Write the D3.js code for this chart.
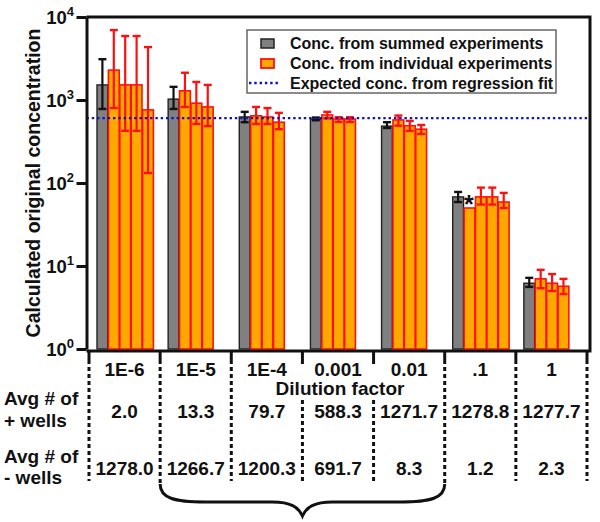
<!DOCTYPE html>
<html><head><meta charset="utf-8">
<script src="https://cdn.jsdelivr.net/npm/d3@7"></script>
<style>body{margin:0;background:#fff}svg{display:block}text{font-family:"Liberation Sans",Arial,sans-serif;font-weight:bold;fill:#111}</style>
</head><body><svg id="c" width="600" height="522"></svg>
<script>
const categories = ["1E-6","1E-5","1E-4","0.001","0.01",".1","1"];
const summedMean  = [1520, 1025, 625, 590, 485, 68, 6.2];
const summedUpper = [3100, 1440, 720, 615, 540, 78, 7.2];
const summedLower = [780, 780, 540, 570, 460, 59, 5.6];
const indivMean  = [[2290,1520,1520,760],[1290,915,825],[645,625,540],[660,590,590],[575,490,445],[50,68,68,59],[7.0,6.2,5.7]];
const indivUpper = [[6960,5900,5900,4340],[2130,1650,1520],[825,800,700],[720,620,620],[650,560,500],[null,88,88,76],[9.0,8.0,7.0]];
const indivLower = [[800,425,425,132],[825,515,485],[515,515,445],[600,545,545],[490,425,390],[null,55,55,50],[5.4,5.0,4.6]];
const starred = [[5,0]];
const expected = 605;
const plusWells  = ["2.0","13.3","79.7","588.3","1271.7","1278.8","1277.7"];
const minusWells = ["1278.0","1266.7","1200.3","691.7","8.3","1.2","2.3"];
const yTicks = [1,10,100,1000,10000];
const legendLabels = ["Conc. from summed experiments","Conc. from individual experiments","Expected conc. from regression fit"];

const svg = d3.select("#c");
const L=86.5, R=590, T=17, B=349;
const y = d3.scaleLog().domain([1,10000]).range([B,T]);
const x = d3.scaleBand().domain(categories).range([89,587]);
const slot = d3.scaleBand().domain([0,1,2,3,4]).range([8,8+57]);
const GREY="#808080", ORANGE="#FFA800", RED="#FF1010", BLUE="#1010CC";

// bars
categories.forEach((c,i)=>{
  const g = svg.append("g").attr("transform",`translate(${x(c)},0)`);
  g.append("rect").attr("x",slot(0)).attr("width",slot.bandwidth()-0.6)
    .attr("y",y(summedMean[i])).attr("height",B-y(summedMean[i]))
    .attr("fill",GREY).attr("stroke","#222").attr("stroke-width",1.4);
  indivMean[i].forEach((v,j)=>{
    g.append("rect").attr("x",slot(j+1)).attr("width",slot.bandwidth()-0.6)
      .attr("y",y(v)).attr("height",B-y(v))
      .attr("fill",ORANGE).attr("stroke",RED).attr("stroke-width",1.6);
  });
  const eb=(cx,lo,hi,col)=>{
    g.append("line").attr("x1",cx).attr("x2",cx).attr("y1",y(lo)).attr("y2",y(hi)).attr("stroke",col).attr("stroke-width",2.2);
    [lo,hi].forEach(v=>g.append("line").attr("x1",cx-4).attr("x2",cx+4).attr("y1",y(v)).attr("y2",y(v)).attr("stroke",col).attr("stroke-width",2.4));
  };
  eb(slot(0)+slot.bandwidth()/2-0.3, summedLower[i], summedUpper[i], "#111");
  indivMean[i].forEach((v,j)=>{
    if(indivUpper[i][j]!=null) eb(slot(j+1)+slot.bandwidth()/2-0.3, indivLower[i][j], indivUpper[i][j], RED);
  });
});
starred.forEach(([i,j])=>{
  svg.append("text").attr("x",x(categories[i])+slot(j+1)+slot.bandwidth()/2-1).attr("y",y(indivMean[i][j])+5)
    .attr("text-anchor","middle").attr("font-size",25).text("*");
});

// expected line
svg.append("line").attr("x1",L).attr("x2",R).attr("y1",y(expected)).attr("y2",y(expected))
  .attr("stroke",BLUE).attr("stroke-width",2.4).attr("stroke-dasharray","2.4,2.9");

// frame
const ax = svg.append("g").attr("transform",`translate(${L},0)`)
  .call(d3.axisLeft(y).tickValues(yTicks).tickSize(10).tickSizeOuter(0).tickFormat(""));
ax.selectAll("path,line").attr("stroke","#111").attr("stroke-width",3);
svg.append("path").attr("d",`M${L},${T}H${R}V${B+2}H${L}`).attr("fill","none").attr("stroke","#111").attr("stroke-width",3);
yTicks.forEach(v=>{
  const t = svg.append("text").attr("x",74).attr("y",y(v)+7).attr("text-anchor","end").attr("font-size",18.5);
  t.append("tspan").text("10");
  t.append("tspan").attr("dy",-8).attr("font-size",13).text(Math.round(Math.log10(v)));
});
svg.append("text").attr("transform",`translate(40,${(T+B)/2}) rotate(-90)`).attr("text-anchor","middle")
  .attr("font-size",19.5).text("Calculated original concentration");

// legend
const lg = svg.append("g");
lg.append("rect").attr("x",247).attr("y",30).attr("width",309).attr("height",63).attr("fill","#fff").attr("stroke","#666").attr("stroke-width",1.5);
lg.append("rect").attr("x",261).attr("y",39).attr("width",13).attr("height",9).attr("fill",GREY).attr("stroke","#222").attr("stroke-width",1.5);
lg.append("rect").attr("x",261).attr("y",59).attr("width",13).attr("height",9).attr("fill",ORANGE).attr("stroke",RED).attr("stroke-width",1.8);
lg.append("line").attr("x1",249).attr("x2",278).attr("y1",83).attr("y2",83).attr("stroke",BLUE).attr("stroke-width",2.4).attr("stroke-dasharray","2.4,2.9");
legendLabels.forEach((s,k)=>lg.append("text").attr("x",290).attr("y",49+k*20).attr("font-size",16).text(s));

// table
const dividers = d3.range(categories.length+1).map(k=> k<categories.length ? x(categories[k]) : x(categories[k-1])+x.bandwidth());
dividers.forEach((dx,k)=>{
  svg.append("line").attr("x1",dx).attr("x2",dx).attr("y1",B+2).attr("y2",364).attr("stroke","#111").attr("stroke-width",3);
  const end = (k===1||k===5)?486:481;
  const segs = (k===3||k===4)? [[400,end]] : [[367,end]];
  segs.forEach(([a,b])=>svg.append("line").attr("x1",dx).attr("x2",dx).attr("y1",a).attr("y2",b)
    .attr("stroke","#111").attr("stroke-width",3).attr("stroke-dasharray","4,3"));
});
categories.forEach((c,i)=>{
  const cx = x(c)+x.bandwidth()/2;
  svg.append("text").attr("x",cx).attr("y",376).attr("text-anchor","middle").attr("font-size",19).text(c);
  svg.append("text").attr("x",cx).attr("y",418).attr("text-anchor","middle").attr("font-size",19).text(plusWells[i]);
  svg.append("text").attr("x",cx).attr("y",475).attr("text-anchor","middle").attr("font-size",19).text(minusWells[i]);
});
svg.append("text").attr("x",340).attr("y",395).attr("text-anchor","middle").attr("font-size",19).text("Dilution factor");
[["Avg # of",405],["+ wells",427],["Avg # of",463],["- wells",484]].forEach(([s,yy])=>
  svg.append("text").attr("x",4).attr("y",yy).attr("font-size",19).text(s));

// brace
const bx0 = dividers[1], bx1 = dividers[5], bm=(bx0+bx1)/2;
svg.append("path").attr("d",`M${bx0},484 C${bx0},498 ${bx0+14},502 ${bx0+45},502 L${bm-30},502 C${bm-12},502 ${bm-4},507 ${bm},516 C${bm+4},507 ${bm+12},502 ${bm+30},502 L${bx1-45},502 C${bx1-14},502 ${bx1},498 ${bx1},484`)
  .attr("fill","none").attr("stroke","#111").attr("stroke-width",3);
</script></body></html>
